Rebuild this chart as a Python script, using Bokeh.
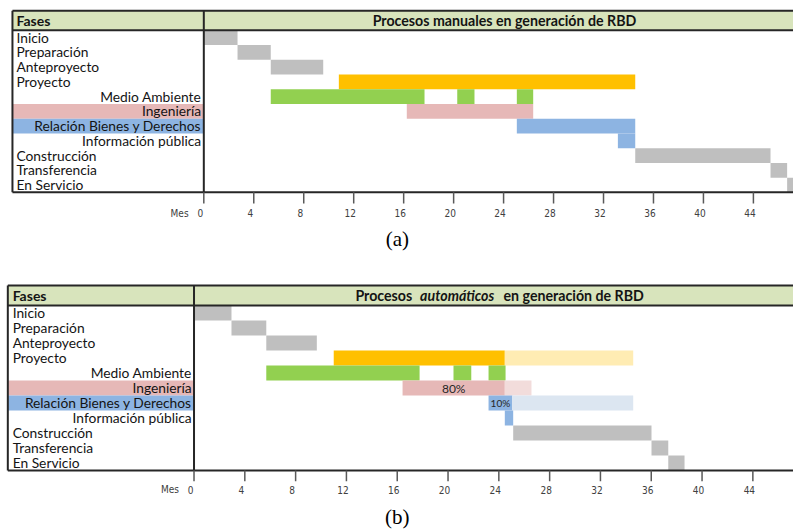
from bokeh.plotting import figure
from bokeh.models import ColumnDataSource, Range1d
from bokeh.layouts import column
from bokeh.transform import factor_cmap
from bokeh.core.properties import value
from bokeh.embed import file_html
from bokeh.resources import INLINE

# ---------------- data ----------------
phases = ["Inicio", "Preparación", "Anteproyecto", "Proyecto", "Medio Ambiente",
          "Ingeniería", "Relación Bienes y Derechos", "Información pública",
          "Construcción", "Transferencia", "En Servicio"]
phase_align = ["left", "left", "left", "left", "right", "right", "right", "right",
               "left", "left", "left"]
highlight_rows = [5, 6]
highlight_kind = ["ingenieria", "rbd"]

tick_months = [0, 4, 8, 12, 16, 20, 24, 28, 32, 36, 40, 44]

kinds = ["fase", "proyecto", "ambiente", "ingenieria", "rbd",
         "proyecto_resto", "ingenieria_resto", "rbd_resto"]

# (a) procesos manuales
man_row = [0, 1, 2, 3, 4, 4, 4, 5, 6, 7, 8, 9, 10]
man_start = [0.0, 2.70, 5.36, 10.81, 5.36, 20.29, 25.06, 16.25, 25.06, 33.15, 34.54, 45.37, 46.70]
man_end = [2.70, 5.36, 9.56, 34.54, 17.67, 21.67, 26.37, 26.37, 34.54, 34.54, 45.37, 46.70, 48.0]
man_kind = ["fase", "fase", "fase", "proyecto", "ambiente", "ambiente", "ambiente",
            "ingenieria", "rbd", "rbd", "fase", "fase", "fase"]

# (b) procesos automáticos
auto_row = [0, 1, 2, 3, 3, 4, 4, 4, 5, 5, 6, 6, 7, 8, 9, 10]
auto_start = [0.0, 2.95, 5.69, 11.00, 24.47, 5.69, 20.43, 23.19, 16.42, 24.47,
              23.19, 25.06, 24.47, 25.13, 36.02, 37.34]
auto_end = [2.95, 5.69, 9.67, 24.47, 34.58, 17.76, 21.83, 24.53, 24.47, 26.57,
            25.06, 34.58, 25.13, 36.02, 37.34, 38.62]
auto_kind = ["fase", "fase", "fase", "proyecto", "proyecto_resto", "ambiente", "ambiente",
             "ambiente", "ingenieria", "ingenieria_resto", "rbd", "rbd_resto", "rbd",
             "fase", "fase", "fase"]
auto_progress_kind = ["ingenieria", "rbd"]
auto_progress_pct = ["80%", "10%"]

# ---------------- styles ----------------
palette = ["#BFBFBF", "#FFC000", "#92D050", "#E6B8B7", "#8DB4E2",
           "#FFECB3", "#F2DCDB", "#DCE6F1"]
LABEL_FONT = "Lato"
NARROW = "'Liberation Sans Narrow', 'DejaVu Sans Condensed', 'Roboto Condensed', sans-serif"
FRAME = "#262626"
N = len(phases)


def make_chart(rows, starts, ends, kinds_list, geo, title_parts, caption,
               progress=None):
    p = figure(width=793, height=geo["height"], output_backend="svg",
               toolbar_location=None,
               x_range=Range1d(geo["x0"], geo["x1"]),
               y_range=Range1d(geo["ybot"], geo["ytop"]),
               min_border=0, outline_line_color=None)
    p.axis.visible = False
    p.grid.visible = False
    p.background_fill_color = "white"
    p.border_fill_color = "white"

    fl = geo["frame_left"]
    fr = geo["x1"] + 2
    ht = geo["header_top"]

    # header background
    p.quad(left=[fl], right=[fr], top=[ht], bottom=[0], fill_color="#D8E4BC",
           line_color=None)
    # highlighted label cells
    hsrc = ColumnDataSource(dict(
        left=[fl] * len(highlight_rows), right=[0] * len(highlight_rows),
        top=list(highlight_rows), bottom=[r + 1 for r in highlight_rows],
        kind=highlight_kind))
    p.quad(left="left", right="right", top="top", bottom="bottom", source=hsrc,
           fill_color=factor_cmap("kind", palette, kinds), line_color=None)

    # bars
    src = ColumnDataSource(dict(start=starts, end=ends,
                                top=list(rows), bottom=[r + 1 for r in rows],
                                kind=kinds_list))
    p.quad(left="start", right="end", top="top", bottom="bottom", source=src,
           fill_color=factor_cmap("kind", palette, kinds), line_color=None)

    # progress labels
    if progress is not None:
        pk, pct, fsize = progress
        for k, t, fs in zip(pk, pct, fsize):
            i = kinds_list.index(k)
            p.text(x=[(starts[i] + ends[i]) / 2], y=[rows[i] + 0.5], text=[t],
                   text_align="center", text_baseline="middle",
                   text_font=value(LABEL_FONT), text_font_size=fs, text_color="#262626")

    # phase labels
    for al in ("left", "right"):
        idx = [i for i in range(N) if phase_align[i] == al]
        xx = geo["lab_left"] if al == "left" else geo["lab_right"]
        p.text(x=[xx] * len(idx), y=[i + 0.47 for i in idx],
               text=[phases[i] for i in idx], text_align=al, text_baseline="middle",
               text_font=value(LABEL_FONT), text_font_size="13.8px", text_color="#141414")

    # header texts
    p.text(x=[geo["lab_left"]], y=[ht / 2], text=["Fases"], text_align="left",
           text_baseline="middle", text_font=value(LABEL_FONT),
           text_font_style="bold", text_font_size="14px", text_color="#141414")
    for (tx, txt, al, style) in title_parts:
        p.text(x=[tx], y=[ht / 2], text=[txt], text_align=al, text_baseline="middle",
               text_font=value(LABEL_FONT), text_font_style=style,
               text_font_size="14.2px", text_color="#141414")

    # frame
    p.segment(x0=[fl, fl, fl, fl, 0], y0=[ht, 0, N, ht, ht],
              x1=[fr, fr, fr, fl, 0], y1=[ht, 0, N, N, N],
              line_color=FRAME, line_width=2)

    # ticks and tick labels
    p.segment(x0=tick_months, y0=[N] * len(tick_months),
              x1=tick_months, y1=[geo["tick_end"]] * len(tick_months),
              line_color="#595959", line_width=1.5)
    p.text(x=tick_months, y=[geo["tick_lab"]] * len(tick_months),
           text=[str(t) for t in tick_months], text_align="center",
           text_baseline="middle", x_offset=-3.5, text_font=value(NARROW),
           text_font_size="10px", text_color="#404040")
    p.text(x=[geo["mes_x"]], y=[geo["tick_lab"]], text=["Mes"], text_align="center",
           text_baseline="middle", text_font=value(NARROW), text_font_size="10px",
           text_color="#404040")

    # caption
    p.text(x=[geo["cap_x"]], y=[geo["cap_y"]], text=[caption], text_align="center",
           text_baseline="middle", text_font=value("Liberation Serif"),
           text_font_size="21px", text_color="#000000")
    return p


geo_a = dict(height=262, x0=-16.277, x1=47.21, ytop=-2.023, ybot=15.76,
             frame_left=-15.32, header_top=-1.324, tick_end=11.76, tick_lab=12.42,
             cap_x=15.5, cap_y=14.14, lab_left=-15.0, lab_right=-0.21, mes_x=-1.94)
geo_b = dict(height=267, x0=-15.236, x1=47.2, ytop=-2.867, ybot=14.93,
             frame_left=-14.66, header_top=-1.333, tick_end=11.71, tick_lab=12.27,
             cap_x=16.0, cap_y=14.07, lab_left=-14.28, lab_right=-0.18, mes_x=-1.9)

title_a = [(24.07, "Procesos manuales en generación de RBD", "center", "bold")]
title_b = [(17.18, "Procesos", "right", "bold"),
           (20.72, "automáticos", "center", "bold italic"),
           (24.37, "en generación de RBD", "left", "bold")]

pa = make_chart(man_row, man_start, man_end, man_kind, geo_a, title_a, "(a)")
pb = make_chart(auto_row, auto_start, auto_end, auto_kind, geo_b, title_b, "(b)",
                progress=(auto_progress_kind, auto_progress_pct, ["12px", "10px"]))

layout = column(pa, pb)
open("out.html", "w").write(file_html(layout, INLINE))
